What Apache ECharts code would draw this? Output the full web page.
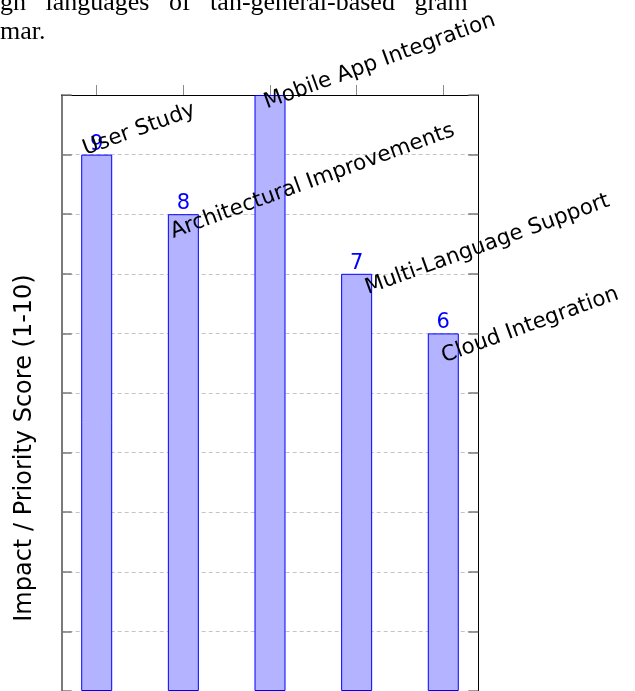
<!DOCTYPE html>
<html>
<head>
<meta charset="utf-8">
<script src="https://cdn.jsdelivr.net/npm/echarts@6/dist/echarts.min.js"></script>
<style>
  html, body { margin: 0; padding: 0; background: #ffffff; }
  #chart { width: 635px; height: 691px; }
</style>
</head>
<body>
<div id="chart"></div>
<script>
// Feature areas and their impact / priority scores
const categories = [
  'User Study',
  'Architectural Improvements',
  'Mobile App Integration',
  'Multi-Language Support',
  'Cloud Integration'
];
const scores = [9, 8, 10, 7, 6];

// Score axis range and tick step
const scoreMin = 0;
const scoreMax = 10;
const scoreStep = 1;

// Category tick positions on the top axis
const categoryTicks = [0, 1, 2, 3, 4];

// Where each rotated feature name begins, in axis units (x index, score)
const nameSpots = [
  [-0.15, 9.08],
  [0.86, 7.69],
  [1.94, 9.86],
  [3.11, 6.75],
  [3.99, 5.60]
];

// Running text of the page above the figure (justified line, then the last line)
const pageLines = ['gh   languages   of   tan-general-based   gram', 'mar.'];

const sans = '"DejaVu Sans", sans-serif';
const serif = '"Liberation Serif", "Times New Roman", serif';

const chart = echarts.init(document.getElementById('chart'), null, { renderer: 'canvas' });

chart.setOption({
  animation: false,
  backgroundColor: '#ffffff',
  grid: { left: 61.7, right: 156.7, top: 95, bottom: -4, containLabel: false },
  xAxis: {
    type: 'value',
    position: 'top',
    min: -0.404,
    max: 4.404,
    axisLine: { show: true, onZero: false, lineStyle: { color: '#000000', width: 1 } },
    axisTick: { show: true, inside: false, length: 10, customValues: categoryTicks,
                lineStyle: { color: '#8c8c8c', width: 1 } },
    axisLabel: { show: false },
    splitLine: { show: false }
  },
  yAxis: [
    {
      type: 'value',
      position: 'left',
      min: scoreMin,
      max: scoreMax,
      interval: scoreStep,
      axisLine: { show: true, onZero: false, lineStyle: { color: '#7a7a7a', width: 2 } },
      axisTick: { show: true, inside: true, length: 10, lineStyle: { color: '#7a7a7a', width: 1.5 } },
      axisLabel: { show: false },
      splitLine: { show: true, lineStyle: { color: '#c4c4c4', width: 1, type: [4, 3] } }
    },
    {
      type: 'value',
      position: 'right',
      min: scoreMin,
      max: scoreMax,
      interval: scoreStep,
      axisLine: { show: true, onZero: false, lineStyle: { color: '#000000', width: 1 } },
      axisTick: { show: true, inside: true, length: 10, lineStyle: { color: '#7a7a7a', width: 1.5 } },
      axisLabel: { show: false },
      splitLine: { show: false }
    }
  ],
  series: [
    {
      type: 'bar',
      data: scores.map((v, i) => [i, v]),
      barWidth: 31,
      itemStyle: { color: '#b3b3ff', borderColor: '#0000ff', borderWidth: 1 },
      label: {
        show: true,
        position: 'top',
        distance: 0,
        color: '#0000ff',
        fontFamily: sans,
        fontSize: 21,
        // a label above the top of the axis range falls outside the plot
        formatter: p => (p.value[1] >= scoreMax ? '' : String(p.value[1]))
      },
      z: 2
    },
    {
      type: 'scatter',
      data: nameSpots.map((p, i) => ({ value: p, name: categories[i] })),
      symbolSize: 0,
      silent: true,
      itemStyle: { opacity: 1 },
      label: {
        show: true,
        position: 'inside',
        formatter: '{b}',
        rotate: 20,
        align: 'left',
        verticalAlign: 'middle',
        color: '#000000',
        opacity: 1,
        fontFamily: sans,
        fontSize: 21.5
      },
      z: 4
    }
  ],
  graphic: [
    {
      type: 'text',
      x: 25,
      y: 448,
      rotation: Math.PI / 2,
      style: {
        text: 'Impact / Priority Score (1-10)',
        fontFamily: sans,
        fontSize: 24,
        fill: '#000000',
        align: 'center',
        verticalAlign: 'middle',
        textAlign: 'center',
        textVerticalAlign: 'middle'
      }
    },
    {
      type: 'text',
      x: 0,
      y: 3,
      style: {
        text: pageLines[0],
        fontFamily: serif,
        fontSize: 26,
        fill: '#000000',
        align: 'left',
        verticalAlign: 'middle',
        textAlign: 'left',
        textVerticalAlign: 'middle'
      }
    },
    {
      type: 'text',
      x: 0,
      y: 32,
      style: {
        text: pageLines[1],
        fontFamily: serif,
        fontSize: 26,
        fill: '#000000',
        align: 'left',
        verticalAlign: 'middle',
        textAlign: 'left',
        textVerticalAlign: 'middle'
      }
    }
  ]
});
</script>
</body>
</html>
